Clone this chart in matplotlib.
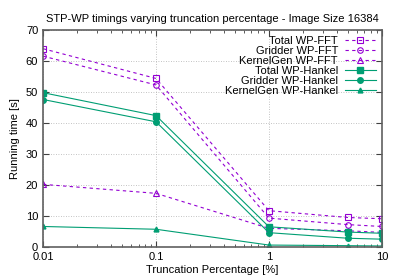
import numpy as np
import matplotlib
matplotlib.use("Agg")
import matplotlib.pyplot as plt
from matplotlib.ticker import FixedLocator, FixedFormatter, LogLocator, NullFormatter

# truncation percentages
trunc = [0.01, 0.1, 1, 5, 10]

total_fft = [64.0, 54.4, 11.7, 9.5, 9.1]
gridder_fft = [61.6, 52.3, 9.3, 7.2, 6.6]
kernel_fft = [20.2, 17.3, 6.0, 5.2, 4.7]
total_hankel = [49.8, 42.4, 6.5, 4.8, 4.4]
gridder_hankel = [47.6, 40.4, 4.6, 2.8, 2.5]
kernel_hankel = [6.6, 5.7, 0.6, 0.4, 0.3]

purple = "#9400d3"
green = "#009e73"

plt.rcParams['font.family'] = ['Liberation Sans', 'DejaVu Sans']

fig = plt.figure(figsize=(3.99, 2.79), dpi=100)
ax = fig.add_axes([0.108, 0.115, 0.849, 0.777])

dash = (0, (3, 3))
ax.plot(trunc, total_fft, color=purple, ls=dash, lw=0.8, marker='s', mfc='none', ms=4, mew=0.8, label='Total WP-FFT')
ax.plot(trunc, gridder_fft, color=purple, ls=dash, lw=0.8, marker='o', mfc='none', ms=4, mew=0.8, label='Gridder WP-FFT')
ax.plot(trunc, kernel_fft, color=purple, ls=dash, lw=0.8, marker='^', mfc='none', ms=4, mew=0.8, label='KernelGen WP-FFT')
ax.plot(trunc, total_hankel, color=green, lw=0.8, marker='s', ms=4, label='Total WP-Hankel')
ax.plot(trunc, gridder_hankel, color=green, lw=0.8, marker='o', ms=4, label='Gridder WP-Hankel')
ax.plot(trunc, kernel_hankel, color=green, lw=0.8, marker='^', ms=3.5, label='KernelGen WP-Hankel')

ax.set_xscale('log')
ax.set_xlim(0.01, 10)
ax.set_ylim(0, 70)
ax.xaxis.set_major_locator(FixedLocator([0.01, 0.1, 1, 10]))
ax.xaxis.set_major_formatter(FixedFormatter(['0.01', '0.1', '1', '10']))
ax.xaxis.set_minor_locator(LogLocator(base=10, subs=np.arange(2, 10)))
ax.xaxis.set_minor_formatter(NullFormatter())
ax.set_yticks(range(0, 71, 10))

ax.grid(True, which='major', color='#b0b0b0', ls=(0, (1, 2)), lw=0.6)
ax.tick_params(which='both', direction='in', top=True, right=True, labelsize=8, color='#404040')
ax.tick_params(which='major', length=4)
ax.tick_params(which='minor', length=2)
for s in ax.spines.values():
    s.set_color('#606060')
    s.set_linewidth(1.2)

ax.set_xlabel('Truncation Percentage [%]', fontsize=8, labelpad=2)
ax.set_ylabel('Running time [s]', fontsize=8, labelpad=4)
ax.set_title('STP-WP timings varying truncation percentage - Image Size 16384', fontsize=8, pad=6)

leg = ax.legend(loc='upper right', markerfirst=False, frameon=False, fontsize=8,
                handlelength=2.8, labelspacing=0.0, borderaxespad=0.15, handletextpad=0.6)
for t in leg.get_texts():
    t.set_ha('right')

fig.savefig('out.png', dpi=100)
